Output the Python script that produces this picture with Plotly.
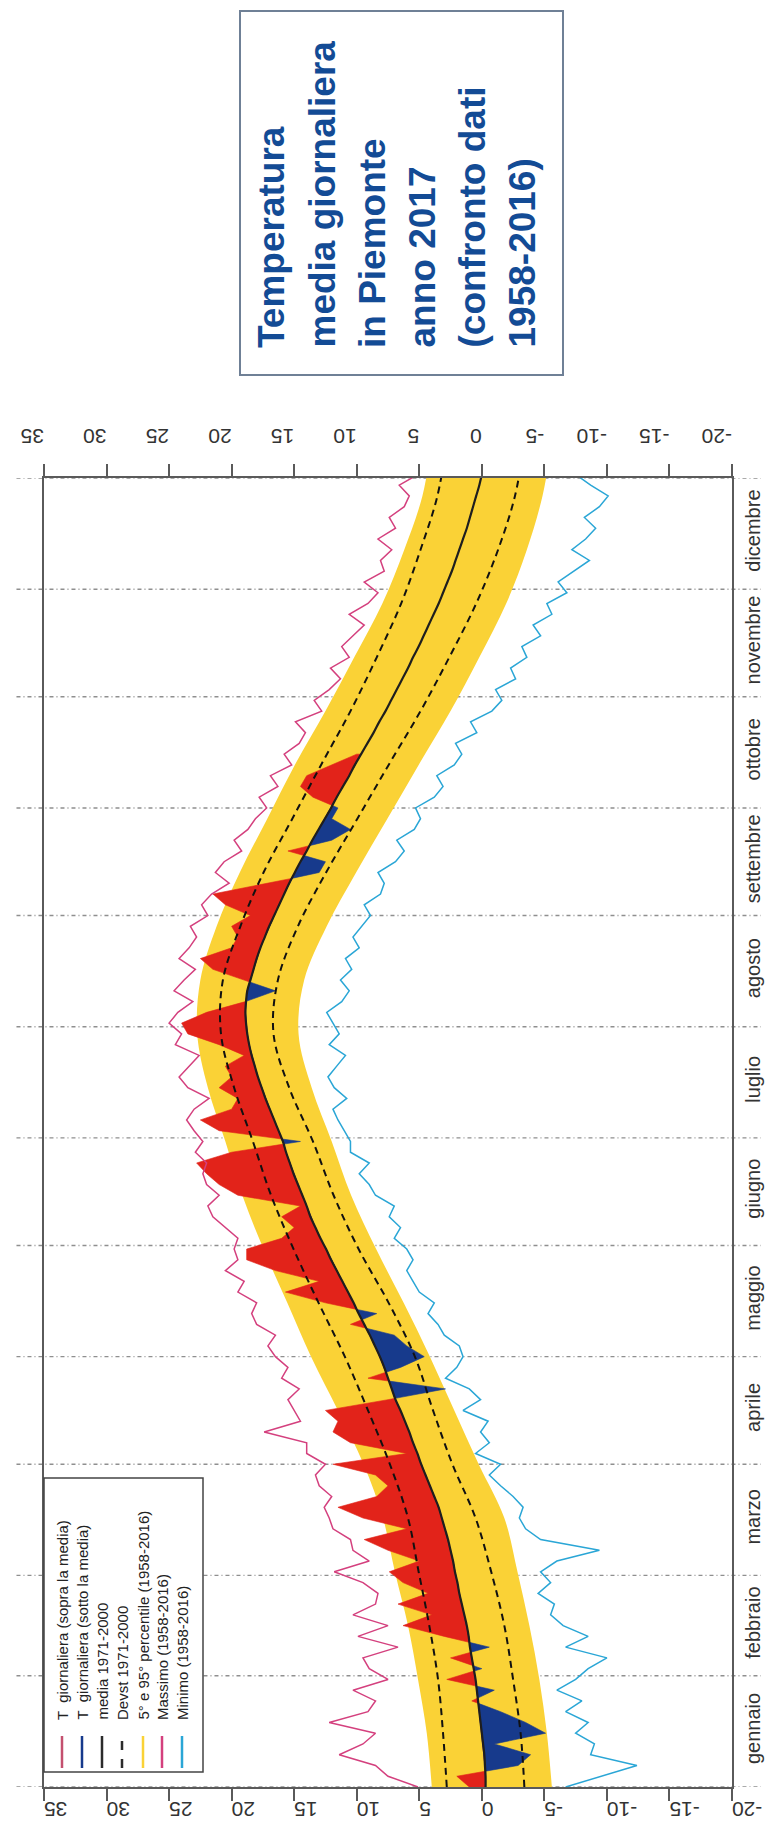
import numpy as np
import plotly.graph_objects as go

# ---------------- data ----------------
MONTHS = ["gennaio", "febbraio", "marzo", "aprile", "maggio", "giugno",
          "luglio", "agosto", "settembre", "ottobre", "novembre", "dicembre"]
MONTH_DAYS = [31, 28, 31, 30, 31, 30, 31, 31, 30, 31, 30, 31]
TEMP_TICKS = [-20, -15, -10, -5, 0, 5, 10, 15, 20, 25, 30, 35]

DAY_STEP = 3  # daily series sampled every 3 days, starting at day 0

MEDIA = [-0.3, -0.3, -0.25, -0.2, -0.1, 0.0, 0.1, 0.2, 0.3, 0.4,
         0.5, 0.65, 0.8, 0.95, 1.05, 1.2, 1.4, 1.6, 1.8, 1.95,
         2.15, 2.3, 2.5, 2.7, 2.95, 3.2, 3.45, 3.8, 4.15, 4.5,
         4.85, 5.15, 5.5, 5.8, 6.15, 6.5, 6.9, 7.2, 7.5, 7.8,
         8.15, 8.55, 8.95, 9.4, 9.85, 10.25, 10.7, 11.15, 11.6, 12.05,
         12.45, 12.9, 13.3, 13.7, 14.0, 14.35, 14.7, 15.05, 15.35, 15.65,
         15.9, 16.25, 16.6, 16.95, 17.3, 17.6, 17.9, 18.15, 18.4, 18.6,
         18.75, 18.85, 18.9, 18.85, 18.75, 18.5, 18.25, 18.0, 17.7, 17.35,
         17.0, 16.6, 16.2, 15.8, 15.4, 14.95, 14.5, 14.0, 13.55, 13.05,
         12.55, 12.05, 11.6, 11.1, 10.6, 10.15, 9.65, 9.15, 8.65, 8.2,
         7.7, 7.25, 6.8, 6.35, 5.9, 5.5, 5.05, 4.65, 4.25, 3.85,
         3.45, 3.1, 2.75, 2.4, 2.1, 1.8, 1.5, 1.2, 0.95, 0.7,
         0.45, 0.2, 0.0]

T2017 = [1.0, 2.0, -2.9, -3.9, -1.0, -5.1, -3.5, -1.5, 0.8, -1.0,
         2.8, 0.0, 2.5, -0.6, 3.0, 6.3, 4.0, 6.7, 4.3, 6.3,
         7.4, 5.0, 7.5, 9.4, 6.0, 9.5, 11.5, 8.4, 7.5, 8.5,
         11.9, 6.0, 10.5, 11.9, 11.5, 12.5, 7.5, 2.9, 9.1, 6.5,
         4.6, 6.0, 7.0, 10.5, 8.4, 12.5, 15.7, 13.0, 16.5, 18.8,
         18.8, 16.0, 15.0, 16.0, 14.5, 19.5, 21.0, 22.0, 22.8, 20.0,
         14.5, 21.0, 22.5, 20.0, 19.5, 21.0, 20.0, 20.5, 19.0, 21.0,
         23.5, 24.0, 22.0, 18.9, 16.5, 19.0, 21.5, 22.5, 20.0, 19.5,
         20.0, 18.5, 20.5, 21.5, 17.0, 13.0, 12.5, 15.5, 12.0, 10.5,
         12.0, 11.5, 13.5, 14.5, 14.0, 12.0, 10.0]

MASSIMO = [5.1, 7.5, 8.5, 11.4, 9.5, 8.5, 12.2, 9.1, 8.5, 10.3,
           7.5, 9.0, 9.5, 6.7, 9.9, 7.5, 10.3, 8.5, 8.3, 9.5,
           11.8, 9.0, 10.3, 10.5, 11.9, 12.2, 12.6, 12.0, 13.0, 13.3,
           12.5, 14.0, 14.0, 17.4, 14.5, 15.0, 15.5, 14.6, 16.0, 15.5,
           16.5, 17.1, 16.5, 18.0, 18.4, 18.0, 19.5, 19.0, 20.5, 19.5,
           19.8, 19.5, 20.5, 21.5, 21.9, 21.0, 22.0, 22.3, 22.0, 22.9,
           22.3, 23.0, 23.6, 23.0, 21.8, 23.5, 24.2, 23.4, 22.6, 24.5,
           24.0, 25.0, 24.3, 23.1, 24.6, 23.8, 22.9, 24.2, 23.4, 22.8,
           23.3, 21.9, 22.4, 21.6, 20.2, 21.3, 20.6, 19.2, 19.8, 18.7,
           18.1, 17.2, 17.8, 16.3, 16.9, 15.2, 15.8, 14.6, 14.1, 14.9,
           12.8, 13.4, 12.2, 11.3, 12.1, 10.6, 11.2, 10.3, 9.4, 10.6,
           9.1, 8.3, 9.4, 7.8, 8.1, 7.2, 8.3, 6.9, 7.4, 6.2,
           5.8, 6.6, 5.1]

MINIMO = [-6.7, -9.5, -12.4, -8.7, -9.0, -7.5, -8.5, -6.7, -8.0, -6.0,
          -7.5, -8.5, -10.0, -6.7, -8.5, -6.5, -5.5, -5.8, -4.5, -5.5,
          -4.7, -6.0, -9.4, -4.7, -3.5, -3.0, -3.3, -2.5, -1.5, -0.6,
          -1.5, 0.5, -0.6, 0.1, -0.5, 1.5, 0.1, 1.0, 2.9, 2.0,
          1.5, 1.8, 3.0, 3.5, 4.3, 3.8, 5.0, 5.5, 6.0, 5.5,
          6.0, 7.0, 6.5, 7.4, 7.0, 8.5, 9.0, 9.8, 9.0, 10.5,
          10.5, 11.0, 11.5, 11.9, 10.8, 11.8, 12.3, 11.6, 10.9, 12.2,
          11.4, 11.9, 12.4, 11.2, 10.6, 11.3, 10.4, 10.9, 9.8, 10.3,
          9.6, 8.9, 9.4, 8.1, 7.8, 8.3, 6.9, 6.2, 6.8, 5.4,
          4.9, 5.3, 3.8, 3.1, 3.6, 2.2, 1.6, 2.1, 0.4, 0.9,
          -0.8, -1.6, -1.1, -2.7, -2.3, -3.6, -3.2, -4.7, -4.1, -5.6,
          -5.2, -6.8, -6.1, -7.4, -8.6, -7.2, -8.3, -9.1, -8.2, -9.4,
          -10.1, -8.7, -7.5]

CLIM_DAYS = list(range(0, 376, 15))
P95 = [4.0, 4.4, 5.1, 5.9, 6.95, 7.9, 9.45, 11.5, 13.65, 15.55, 17.45, 19.15, 20.5,
       21.9, 22.75, 22.5, 21.2, 19.35, 17.15, 14.95, 12.5, 10.2, 7.95, 6.2, 4.75, 4.0]
P5 = [-5.6, -5.2, -4.6, -3.8, -2.85, -1.8, 0.25, 2.2, 4.15, 6.25, 8.45, 10.45, 12.0,
      13.6, 14.65, 14.2, 12.4, 10.05, 7.55, 5.05, 2.5, 0.2, -1.95, -3.6, -4.85, -5.6]
DEVST_SUP = [2.8, 3.1, 3.5, 4.2, 5.05, 5.9, 7.35, 9.1, 10.95, 13.05, 15.05, 16.85, 18.3,
             19.8, 20.85, 20.7, 19.3, 17.45, 15.15, 12.85, 10.5, 8.4, 6.45, 4.9, 3.55, 2.8]
DEVST_INF = [-3.4, -3.1, -2.5, -1.8, -0.75, 0.5, 2.35, 3.9, 5.35, 7.45, 9.85, 11.85, 13.5,
             15.4, 16.65, 16.3, 14.7, 12.45, 9.95, 7.45, 4.9, 2.6, 0.45, -1.3, -2.65, -3.4]

LEGEND_LABELS = ["T  giornaliera (sopra la media)", "T  giornaliera (sotto la media)",
                 "media 1971-2000", "Devst 1971-2000", "5° e 95° percentile (1958-2016)",
                 "Massimo (1958-2016)", "Minimo (1958-2016)"]
TITLE_LINES = ["Temperatura", "media giornaliera", "in Piemonte", "anno 2017",
               "(confronto dati", "1958-2016)"]

# ---------------- styles ----------------
C_RED = "#e2231a"
C_BLUE = "#173a8c"
C_YELLOW = "#fad236"
C_MAX = "#d4407e"
C_MIN = "#2aa6d6"
C_MEAN = "#1e1e1e"
C_AX = "#5a5a5a"
C_TXT = "#333333"
C_TITLE = "#134b95"

W, H = 775, 1840
PL, PR, PT, PB = 36, 724, 470, 1779  # plot area in pixels


def fx(px):
    return (px - PL) / (PR - PL)


def fy(py):
    return (PB - py) / (PB - PT)


days = np.arange(len(MEDIA)) * DAY_STEP
media = np.array(MEDIA)
t17 = np.array(T2017)
d17 = days[:len(t17)]
m17 = media[:len(t17)]


def split_fill(d, t, m):
    dd, up, lo, mm = [], [], [], []
    for i in range(len(d)):
        if i > 0:
            a0, a1 = t[i - 1] - m[i - 1], t[i] - m[i]
            if a0 * a1 < 0:
                f = a0 / (a0 - a1)
                dc = d[i - 1] + f * (d[i] - d[i - 1])
                mc = m[i - 1] + f * (m[i] - m[i - 1])
                dd.append(dc); up.append(mc); lo.append(mc); mm.append(mc)
        dd.append(d[i]); mm.append(m[i])
        up.append(max(t[i], m[i])); lo.append(min(t[i], m[i]))
    return np.array(dd), np.array(up), np.array(lo), np.array(mm)


dd, up, lo, mm = split_fill(d17, t17, m17)

fig = go.Figure()

# percentile band
fig.add_trace(go.Scatter(x=P5, y=CLIM_DAYS, mode="lines", line=dict(width=0, color=C_YELLOW, shape="spline"),
                         showlegend=False, hoverinfo="skip"))
fig.add_trace(go.Scatter(x=P95, y=CLIM_DAYS, mode="lines", line=dict(width=0, color=C_YELLOW, shape="spline"),
                         fill="tonextx", fillcolor=C_YELLOW, showlegend=False, hoverinfo="skip"))

# 2017 above / below mean
fig.add_trace(go.Scatter(x=np.concatenate([up, mm[::-1]]), y=np.concatenate([dd, dd[::-1]]),
                         mode="lines", line=dict(width=0.6, color=C_RED), fill="toself", fillcolor=C_RED,
                         showlegend=False, hoverinfo="skip"))
fig.add_trace(go.Scatter(x=np.concatenate([lo, mm[::-1]]), y=np.concatenate([dd, dd[::-1]]),
                         mode="lines", line=dict(width=0.6, color=C_BLUE), fill="toself", fillcolor=C_BLUE,
                         showlegend=False, hoverinfo="skip"))

# devst dashed
for arr in (DEVST_SUP, DEVST_INF):
    fig.add_trace(go.Scatter(x=arr, y=CLIM_DAYS, mode="lines",
                             line=dict(width=2, color="#111111", dash="7px,5px", shape="spline"),
                             showlegend=False, hoverinfo="skip"))

# mean
fig.add_trace(go.Scatter(x=media, y=days, mode="lines", line=dict(width=2.2, color=C_MEAN, shape="spline"),
                         showlegend=False, hoverinfo="skip"))
# max / min
fig.add_trace(go.Scatter(x=MASSIMO, y=days, mode="lines", line=dict(width=1.5, color=C_MAX),
                         showlegend=False, hoverinfo="skip"))
fig.add_trace(go.Scatter(x=MINIMO, y=days, mode="lines", line=dict(width=1.5, color=C_MIN),
                         showlegend=False, hoverinfo="skip"))
# dummy trace for top axis
fig.add_trace(go.Scatter(x=[0], y=[0], xaxis="x2", mode="lines", showlegend=False, hoverinfo="skip"))

# month grid lines
bounds = np.concatenate([[0], np.cumsum(MONTH_DAYS)])
shapes = []
for b in bounds:
    shapes.append(dict(type="line", xref="paper", yref="y", x0=-0.04, x1=1.042, y0=b, y1=b,
                       line=dict(color="#8f8f8f", width=1.4, dash="4px,3px,1px,3px"), layer="below"))
mid = bounds[:-1] + np.array(MONTH_DAYS) / 2

# title box
shapes.append(dict(type="rect", xref="paper", yref="paper", x0=fx(232), x1=fx(555), y0=fy(367), y1=fy(3),
                   line=dict(color="#6f8096", width=2), fillcolor="white"))
# legend box
LEG_X = [54, 74, 94, 114, 135, 154, 174]
LEG_COL = ["#c4506f", C_BLUE, "#2b2b2b", "#2b2b2b", C_YELLOW, C_MAX, C_MIN]
shapes.append(dict(type="rect", xref="paper", yref="paper", x0=fx(36), x1=fx(195), y0=fy(1764), y1=fy(1470),
                   line=dict(color="#444444", width=1.5), fillcolor="white", layer="above"))
for i, cx in enumerate(LEG_X):
    shapes.append(dict(type="line", xref="paper", yref="paper", x0=fx(cx), x1=fx(cx), y0=fy(1760), y1=fy(1728),
                       line=dict(color=LEG_COL[i], width=2.5, dash="dash" if i == 3 else "solid"),
                       layer="above"))

annotations = []
for i, (cx, lab) in enumerate(zip(LEG_X, LEGEND_LABELS)):
    annotations.append(dict(xref="paper", yref="paper", x=fx(cx), y=fy(1714), text=lab, textangle=-90,
                            xanchor="center", yanchor="bottom", showarrow=False,
                            font=dict(family="Liberation Sans, Arial", size=15, color="#222222")))
TITLE_X = [263, 314, 364, 414, 464, 514]
for cx, line in zip(TITLE_X, TITLE_LINES):
    annotations.append(dict(xref="paper", yref="paper", x=fx(cx), y=fy(342), text="<b>%s</b>" % line,
                            textangle=-90, xanchor="center", yanchor="bottom", showarrow=False,
                            font=dict(family="Liberation Sans, Arial", size=37, color=C_TITLE)))

axis_common = dict(range=[35, -20], tickmode="array", tickvals=TEMP_TICKS,
                   ticktext=[str(v) for v in TEMP_TICKS], tickangle=180,
                   ticks="outside", ticklen=12, tickwidth=2, tickcolor=C_AX,
                   showline=True, linecolor=C_AX, linewidth=2, showgrid=False, zeroline=False,
                   tickfont=dict(family="Liberation Sans, Arial", size=21, color=C_TXT))

fig.update_layout(
    width=W, height=H, margin=dict(l=PL, r=W - PR, t=PT, b=H - PB, pad=0),
    paper_bgcolor="white", plot_bgcolor="white", showlegend=False,
    xaxis=dict(**axis_common, side="bottom", ticklabelstandoff=-3),
    xaxis2=dict(**axis_common, side="top", overlaying="x", ticklabelstandoff=6),
    yaxis=dict(range=[0, 365], side="right", tickmode="array", tickvals=mid, ticktext=MONTHS,
               tickangle=-90, ticks="", showline=True, mirror=True, linecolor=C_AX, linewidth=2,
               showgrid=False, zeroline=False, ticklabelstandoff=2,
               tickfont=dict(family="Liberation Sans, Arial", size=20, color=C_TXT)),
    shapes=shapes, annotations=annotations,
)

fig.write_html("out.html")
